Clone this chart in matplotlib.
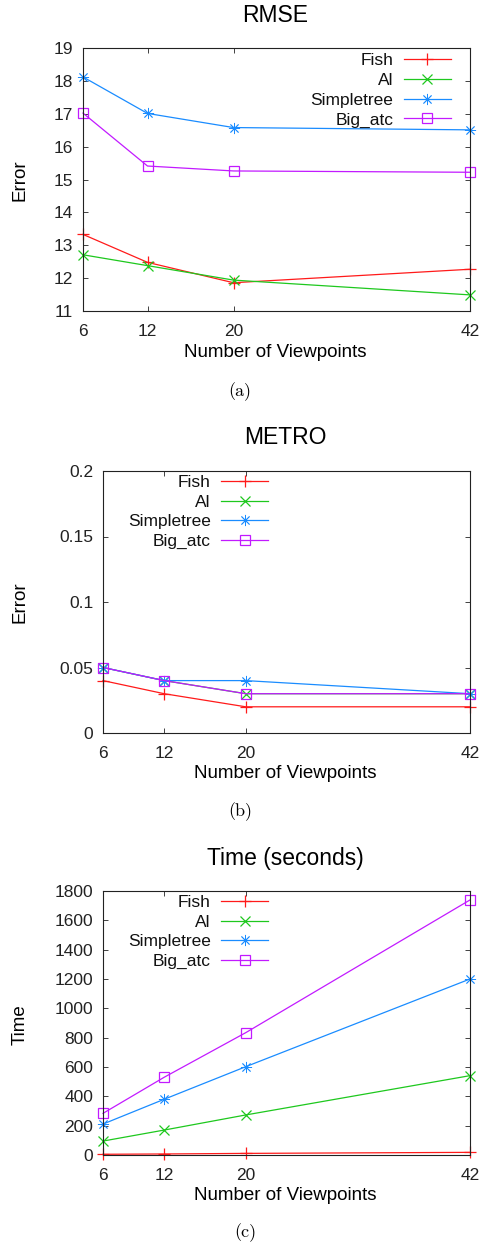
import matplotlib
matplotlib.use("Agg")
import matplotlib.pyplot as plt

# ---- data ----
viewpoints = [6, 12, 20, 42]
series_names = ["Fish", "Al", "Simpletree", "Big_atc"]

rmse_fish = [13.33, 12.48, 11.86, 12.27]
rmse_al = [12.71, 12.38, 11.94, 11.49]
rmse_simpletree = [18.12, 17.01, 16.58, 16.51]
rmse_big_atc = [17.02, 15.41, 15.26, 15.22]

metro_fish = [0.04, 0.03, 0.02, 0.02]
metro_al = [0.05, 0.04, 0.03, 0.03]
metro_simpletree = [0.05, 0.04, 0.04, 0.03]
metro_big_atc = [0.05, 0.04, 0.03, 0.03]

time_fish = [5, 7, 11, 18]
time_al = [95, 170, 273, 541]
time_simpletree = [211, 380, 602, 1200]
time_big_atc = [284, 530, 834, 1739]

rmse_ticks = [11, 12, 13, 14, 15, 16, 17, 18, 19]
metro_ticks = [0, 0.05, 0.1, 0.15, 0.2]
metro_ticklabels = ["0", "0.05", "0.1", "0.15", "0.2"]
time_ticks = [0, 200, 400, 600, 800, 1000, 1200, 1400, 1600, 1800]

colors = ["#ff1a1a", "#1ec81e", "#1a8cff", "#c21aff"]
markers = ["+", "x", (8, 2, 0), "s"]
msizes = [8, 7, 8, 7]
mews = [0.9, 0.9, 0.6, 0.9]

plt.rcParams["font.family"] = ["Liberation Sans", "DejaVu Sans"]

W, H = 480, 1249
fig = plt.figure(figsize=(W / 100, H / 100), dpi=100)


def px_axes(l, t, r, b):
    return fig.add_axes([l / W, 1 - b / H, (r - l) / W, (b - t) / H])


def draw_panel(ax, data, yticks, yticklabels, ylim, legend_anchor):
    for name, vals, c, m, ms, mew in zip(series_names, data, colors, markers, msizes, mews):
        ax.plot(viewpoints, vals, color=c, lw=0.9, marker=m, ms=ms,
                markerfacecolor="none", markeredgecolor=c, markeredgewidth=mew,
                label=name, clip_on=False)
    ax.set_xlim(6, 42)
    ax.set_ylim(*ylim)
    ax.set_xticks(viewpoints)
    ax.set_yticks(yticks)
    ax.set_yticklabels(yticklabels)
    ax.tick_params(direction="in", top=True, right=True, length=3.5, width=0.6,
                   labelsize=12.5, colors="#222222", pad=7)
    ax.tick_params(axis="x", pad=9)
    for s in ax.spines.values():
        s.set_linewidth(0.8)
        s.set_color("#222222")
    leg = ax.legend(loc="upper right", bbox_to_anchor=legend_anchor,
                    markerfirst=False, frameon=False, fontsize=12.5,
                    handlelength=2.7, handletextpad=0.6, labelspacing=0.26,
                    borderaxespad=0, borderpad=0)
    for t in leg.get_texts():
        t.set_color("#111111")


# (a) RMSE
ax1 = px_axes(83, 48, 470, 311)
draw_panel(ax1, [rmse_fish, rmse_al, rmse_simpletree, rmse_big_atc],
           rmse_ticks, [str(t) for t in rmse_ticks], (11, 19), (0.95, 0.98))
fig.text(275 / W, 1 - 16 / H, "RMSE", ha="center", va="center", fontsize=16.5)
fig.text(20 / W, 1 - 180 / H, "Error", ha="center", va="center", rotation=90, fontsize=13.5)
fig.text(275 / W, 1 - 353 / H, "Number of Viewpoints", ha="center", va="center", fontsize=13.5)
fig.text(240 / W, 1 - 392 / H, "(a)", ha="center", va="center", fontsize=13, family="cmr10")

# (b) METRO
ax2 = px_axes(103, 471, 470, 733)
draw_panel(ax2, [metro_fish, metro_al, metro_simpletree, metro_big_atc],
           metro_ticks, metro_ticklabels, (0, 0.2), (0.45, 0.985))
fig.text(285 / W, 1 - 438 / H, "METRO", ha="center", va="center", fontsize=16.5)
fig.text(20 / W, 1 - 602 / H, "Error", ha="center", va="center", rotation=90, fontsize=13.5)
fig.text(285 / W, 1 - 773 / H, "Number of Viewpoints", ha="center", va="center", fontsize=13.5)
fig.text(240 / W, 1 - 812 / H, "(b)", ha="center", va="center", fontsize=13, family="cmr10")

# (c) Time
ax3 = px_axes(103, 891, 470, 1155)
draw_panel(ax3, [time_fish, time_al, time_simpletree, time_big_atc],
           time_ticks, [str(t) for t in time_ticks], (0, 1800), (0.45, 0.985))
fig.text(285 / W, 1 - 859 / H, "Time (seconds)", ha="center", va="center", fontsize=16.5)
fig.text(20 / W, 1 - 1025 / H, "Time", ha="center", va="center", rotation=90, fontsize=13.5)
fig.text(285 / W, 1 - 1196 / H, "Number of Viewpoints", ha="center", va="center", fontsize=13.5)
fig.text(245 / W, 1 - 1233 / H, "(c)", ha="center", va="center", fontsize=13, family="cmr10")

fig.savefig("out.png", dpi=100, facecolor="white")
